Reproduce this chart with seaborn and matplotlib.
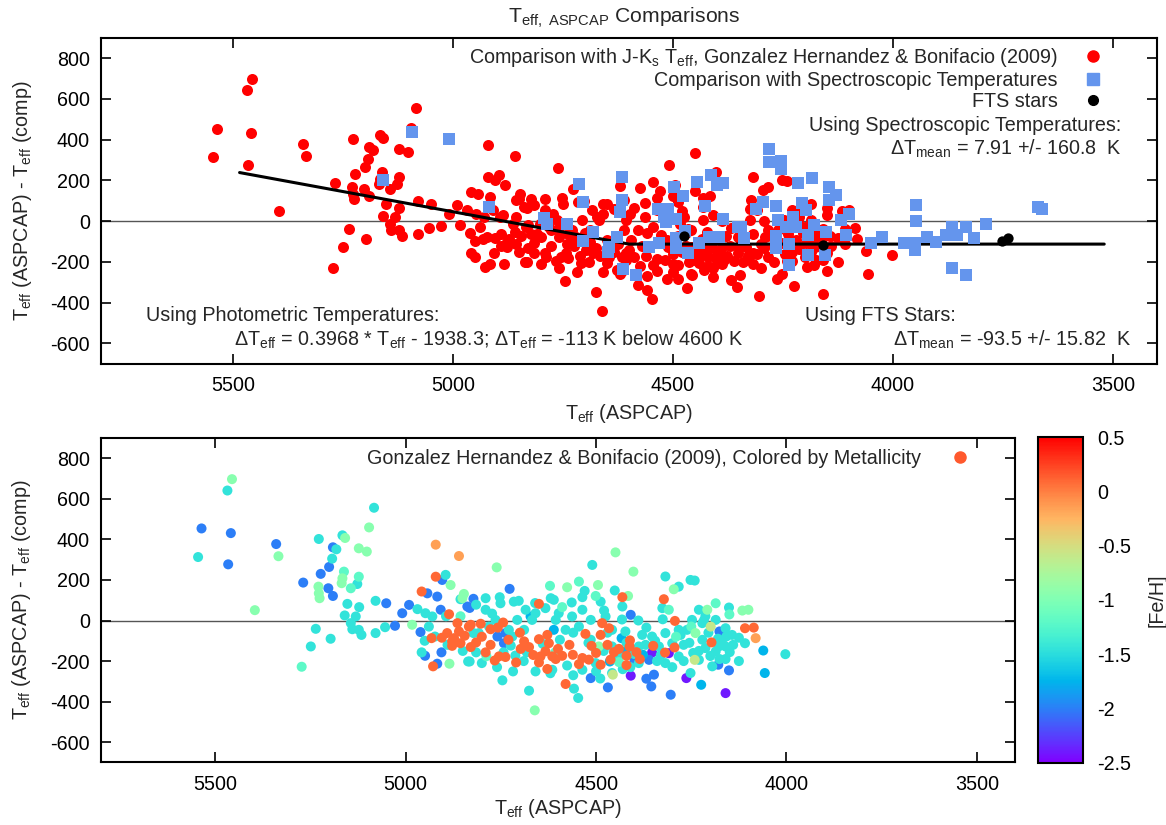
import numpy as np
import pandas as pd
import matplotlib
matplotlib.use("Agg")
import matplotlib.pyplot as plt
import seaborn as sns
from matplotlib.lines import Line2D
from matplotlib.colors import Normalize

# ---------------- data: photometric comparison (grouped by [Fe/H]) ----------------
FEH_PURPLE = -2.4
teff_purple = [4409, 4263, 4160, 4353, 4309]
dteff_purple = [-272, -284, -358, -158, -161]

FEH_BLUE = -2.0
teff_blue = [5536, 5459, 5466, 5340, 5191, 5201, 5269, 5203, 5191, 5223,
             5028, 4961, 4949, 4906, 4917, 4943, 4917, 4838, 5009, 4991,
             4904, 4727, 4832, 4908, 4759, 4738, 4742, 4409, 4514, 4469,
             4368, 4348, 4355, 4304, 4151, 4179, 4399, 4361, 4176, 4822,
             5051]
dteff_blue = [454, 431, 277, 377, 361, 264, 187, 159, 121, 230,
              -26, -57, -174, -157, -213, 134, 118, 69, 36, 77,
              200, 156, 62, 53, -79, -62, -112, 28, -284, -330,
              -287, -267, -325, -366, -246, -218, -197, -194, -54, 107,
              85]

FEH_AZURE = -1.75
teff_azure = [4061, 4057, 4224, 4377, 4672, 4611, 4433, 4423, 4464]
dteff_azure = [-148, -259, -317, -169, 20, -46, -87, -153, -202]

FEH_CYAN = -1.45
teff_cyan = [5468, 5545, 5083, 5228, 5182, 5166, 5193, 5153, 5122, 5131,
             5160, 5079, 5054, 5079, 5116, 5123, 5144, 5140, 5236, 5197,
             5249, 4969, 4948, 4958, 4930, 4939, 4923, 4836, 5127, 4510,
             4895, 4451, 4318, 4283, 4252, 4241, 4856, 4716, 4703, 4619,
             4536, 4488, 4431, 4479, 4389, 4326, 4230, 4151, 4325, 4832,
             4808, 4822, 4718, 4746, 4676, 4558, 4547, 4252, 4158, 4109,
             4003, 4178, 4160, 4149, 4176, 4217, 4689, 4668, 4606, 4580,
             4545, 4514, 4501, 4458, 4423, 4388, 4335, 4300, 4278, 4261,
             4221, 4213, 4186, 4169, 4781, 4764, 4729, 4720, 4707, 4790,
             4751, 4685, 4659, 4633, 4598, 4563, 4536, 4514, 4475, 4458,
             4379, 4353, 4318, 4283, 4248, 4221, 4186, 4160, 4143, 4659,
             4615, 4536, 4501, 4458, 4388, 4318, 4283, 4230, 4195]
dteff_cyan = [641, 313, 556, 402, 351, 420, 305, 82, 66, 20,
              25, 97, -33, -62, -71, -46, -13, -43, -41, -90,
              -128, 56, 36, -157, 20, -30, -79, -202, 180, 274,
              225, 148, 217, 167, 200, 197, 105, 93, 97, 110,
              115, 93, 69, 49, 0, 61, 53, 64, 6, -202,
              -62, -62, -251, -295, -346, -336, -382, -259, -79, -112,
              -166, -128, -128, -156, -190, 0, -46, 3, 3, -46,
              -30, -95, -144, -128, -54, -128, -128, -112, -71, -46,
              -95, -136, -153, -112, -30, 3, -46, -79, 3, 53,
              85, 53, 36, 61, 36, 20, 53, 3, 20, -46,
              -71, -79, -62, -46, 3, -13, 3, -38, -71, -251,
              -243, -243, -210, -259, -210, -210, -177, -194, -226]

# cyan stars in the crowded 4950-4100 K band
teff_cyan_dense = [4790, 4753, 4611, 4564, 4530, 4894, 4815, 4773, 4815, 4743,
                   4724, 4682, 4576, 4489, 4432, 4213, 4368, 4660, 4712, 4640,
                   4595, 4560, 4520, 4480, 4440, 4410, 4345, 4330, 4270, 4245,
                   4205, 4160, 4125, 4690, 4620, 4560, 4500, 4950, 4890, 4850,
                   4800, 4760, 4430, 4400, 4370, 4340, 4300, 4270, 4255, 4230,
                   4200, 4180, 4140, 4125, 4470, 4455, 4420]
dteff_cyan_dense = [110, 115, 102, 89, 146, 21, 78, 34, -157, -157,
                    -124, -157, -222, -286, 5, 21, -35, 86, -173, -115,
                    -95, -60, -110, -150, -175, -230, -100, -170, -120, -160,
                    -60, -190, -85, -200, -260, -270, -250, -100, -120, -150,
                    -210, -230, -240, -165, -120, -200, -230, -200, -110, -150,
                    -175, -90, -120, -200, -60, -190, -110]

FEH_AQUA = -1.2
teff_aqua = [5162, 5144, 5123, 5273, 4621, 4545, 4589, 4309, 4186, 4501,
             4856, 4788, 4607, 4440, 4290, 4250, 4150]
dteff_aqua = [241, 159, 216, -228, 171, 192, 66, 53, 85, 121,
              21, -176, -157, -205, -80, -30, 30]

FEH_PGREEN = -0.95
teff_pgreen = [5456, 5334, 5396, 5096, 5159, 5123, 5102, 5166, 5168, 5229,
               5228, 5226, 4983, 4885, 4882, 4851, 4449, 4402, 4761, 4576,
               4495, 4847, 4416, 4296, 4208, 4116, 4100, 4661, 4239, 4493]
dteff_pgreen = [697, 317, 51, 459, 407, 356, 340, 208, 184, 167,
                134, 110, -21, -213, 175, 110, 336, 241, 262, 164,
                175, 131, 121, 154, 53, 49, 53, -443, -62, -128]

FEH_YGREEN = -0.6
teff_ygreen = [4456, 4241, 4199]
dteff_ygreen = [-267, -194, -30]

FEH_LORANGE = -0.15
teff_lorange = [4081, 4921, 4860]
dteff_lorange = [-87, 374, 318]

FEH_ORANGE = 0.1
teff_orange = [4921, 4958, 4886, 4864, 4891, 4860, 4878, 4856, 4932, 4928,
               4829, 4803, 4777, 4744, 4873, 4829, 4815, 4777, 4755, 4738,
               4790, 4710, 4698, 4689, 4676, 4650, 4628, 4624, 4633, 4646,
               4650, 4628, 4606, 4615, 4589, 4561, 4536, 4519, 4488, 4462,
               4453, 4484, 4466, 4488, 4528, 4512, 4420, 4411, 4412, 4394,
               4580, 4294, 4319, 4197, 4109, 4086, 4650, 4431, 4322, 4293,
               4834, 4878, 4766, 4758, 4700, 4665, 4600, 4570, 4545, 4500,
               4470, 4440, 4905, 4845, 4800, 4730, 4420, 4385, 4350]
dteff_orange = [216, 143, 31, -13, -62, -54, -103, -112, -87, -226,
                -21, -16, -43, -10, -87, -131, -108, -120, -177, -180,
                -157, -207, -140, -103, -131, -92, -71, -112, -152, -177,
                -207, -239, -190, -177, -174, -169, -185, -193, -218, -193,
                -156, -13, -38, -71, -66, -125, -174, -98, -128, -156,
                -313, -133, -158, -108, -38, -35, 82, 115, 105, -2,
                -30, -125, -197, -35, -60, -170, -140, -120, -215, -160,
                -120, -140, -85, -75, -80, -95, -220, -190, -125]

# ---------------- data: spectroscopic comparison ----------------
teff_spec = [5093, 5009, 5159, 4918, 4714, 4705, 4794, 4786, 4741, 4682,
             4705, 4646, 4648, 4627, 4616, 4616, 4620, 4614, 4584, 4535,
             4512, 4520, 4493, 4516, 4497, 4478, 4446, 4414, 4400, 4427,
             4387, 4353, 4532, 4554, 4493, 4493, 4473, 4467, 4440, 4419,
             4396, 4281, 4281, 4255, 4255, 4215, 4184, 4145, 4130, 4145,
             4387, 4296, 4266, 4206, 4198, 4228, 4312, 4346, 4338, 4262,
             4243, 4221, 4179, 4153, 4266, 4236, 4266, 4194, 4194, 4236,
             4154, 4119, 4100, 4107, 4050, 4024, 3975, 3950, 3950, 3948,
             3948, 3922, 3903, 3880, 3865, 3854, 3835, 3816, 3789, 3867,
             3833, 3670, 3661]
dteff_spec = [437, 402, 201, 67, 180, 92, 13, -12, -12, -54,
              -97, -129, -154, -80, 214, 103, 46, -236, -265, 57,
              57, 21, 8, -3, 165, 124, 190, 226, 175, 75,
              8, -31, -106, -126, -131, -85, -49, -159, -110, -77,
              -80, 352, 291, 294, 253, 188, 209, 168, 127, 103,
              185, 95, 74, 90, 54, 21, 57, -28, -85, 5,
              -28, -28, -20, -52, -74, -113, -134, -69, -167, -216,
              -167, 5, 37, -69, -106, -80, -106, -106, -142, 78,
              1, -80, -102, -69, -31, -69, -31, -85, -12, -232,
              -265, 70, 57]

# ---------------- data: FTS stars ----------------
teff_fts = [4476, 4158, 3753, 3739]
dteff_fts = [-75, -118, -97, -84]

# ---------------- fit line ----------------
teff_fit = [5485, 4600, 3520]
dteff_fit = [238, -113, -113]

xticks = [5500, 5000, 4500, 4000, 3500]
yticks = [-600, -400, -200, 0, 200, 400, 600, 800]
cbar_ticks = [0.5, 0, -0.5, -1, -1.5, -2, -2.5]
cbar_labels = ["0.5", "0", "-0.5", "-1", "-1.5", "-2", "-2.5"]

groups = [
    (FEH_PURPLE, teff_purple, dteff_purple),
    (FEH_BLUE, teff_blue, dteff_blue),
    (FEH_AZURE, teff_azure, dteff_azure),
    (FEH_CYAN, teff_cyan, dteff_cyan),
    (FEH_CYAN, teff_cyan_dense, dteff_cyan_dense),
    (FEH_AQUA, teff_aqua, dteff_aqua),
    (FEH_PGREEN, teff_pgreen, dteff_pgreen),
    (FEH_YGREEN, teff_ygreen, dteff_ygreen),
    (FEH_LORANGE, teff_lorange, dteff_lorange),
    (FEH_ORANGE, teff_orange, dteff_orange),
]
phot = pd.concat([pd.DataFrame({"teff": t, "dteff": d, "feh": f}) for f, t, d in groups],
                 ignore_index=True)
spec = pd.DataFrame({"teff": teff_spec, "dteff": dteff_spec})
fts = pd.DataFrame({"teff": teff_fts, "dteff": dteff_fts})
fit = pd.DataFrame({"teff": teff_fit, "dteff": dteff_fit})

# ---------------- style ----------------
sns.set_style("ticks")
plt.rcParams["font.family"] = ["Liberation Sans", "DejaVu Sans"]
plt.rcParams["mathtext.fontset"] = "custom"
plt.rcParams["mathtext.rm"] = "Liberation Sans"
plt.rcParams["mathtext.it"] = "Liberation Sans:italic"
plt.rcParams["mathtext.bf"] = "Liberation Sans:bold"
plt.rcParams["axes.unicode_minus"] = False
FS = 14.2

fig = plt.figure(figsize=(11.66, 8.25), dpi=100)
ax1 = fig.add_axes([0.0866, 0.5591, 0.9057, 0.3953])
ax2 = fig.add_axes([0.0866, 0.0758, 0.7839, 0.3933])
cax = fig.add_axes([0.8900, 0.0755, 0.0391, 0.3947])

TEFF = "T$_{\\rm eff}$"
ylab = TEFF + " (ASPCAP) - " + TEFF + " (comp)"
xlab = TEFF + " (ASPCAP)"


def style_axes(ax):
    ax.set_xlim(5800, 3400)
    ax.set_ylim(-700, 900)
    ax.set_xticks(xticks)
    ax.set_yticks(yticks)
    ax.tick_params(direction="in", length=7, width=1.2, top=True, right=True,
                   labelsize=FS, colors="black")
    ax.tick_params(axis="x", pad=9)
    ax.tick_params(axis="y", pad=8)
    for sp in ax.spines.values():
        sp.set_linewidth(1.5)
        sp.set_color("black")
    ax.axhline(0, color="#555555", lw=1.0, zorder=0.5)


# ---------------- top panel ----------------
style_axes(ax1)
sns.scatterplot(data=phot, x="teff", y="dteff", color="#ff0000", s=63, linewidth=0,
                ax=ax1, zorder=2)
sns.lineplot(data=fit, x="teff", y="dteff", color="black", lw=2.2, ax=ax1, zorder=3)
sns.scatterplot(data=spec, x="teff", y="dteff", color="#6495ed", marker="s", s=63,
                linewidth=0, ax=ax1, zorder=4)
sns.scatterplot(data=fts, x="teff", y="dteff", color="black", s=55, linewidth=0,
                ax=ax1, zorder=5)
ax1.set_xlabel(xlab, fontsize=FS)
ax1.set_ylabel(ylab, fontsize=FS)
ax1.yaxis.set_label_coords(-0.063, 0.5)
ax1.xaxis.set_label_coords(0.5, -0.118)

h1 = [Line2D([], [], ls="", marker="o", color="#ff0000", markersize=8),
      Line2D([], [], ls="", marker="s", color="#6495ed", markersize=8),
      Line2D([], [], ls="", marker="o", color="black", markersize=7)]
l1 = ["Comparison with J-K$_{\\rm s}$ " + TEFF + ", Gonzalez Hernandez & Bonifacio (2009)",
      "Comparison with Spectroscopic Temperatures",
      "FTS stars"]
ax1.legend(h1, l1, loc="upper right", bbox_to_anchor=(0.949, 0.975), markerfirst=False,
           frameon=False, fontsize=FS, handlelength=1.0, handletextpad=1.3,
           labelspacing=0.1, borderaxespad=0, borderpad=0)

ax1.text(0.966, 0.732, "Using Spectroscopic Temperatures:", transform=ax1.transAxes,
         ha="right", va="center", fontsize=FS)
ax1.text(0.966, 0.658, "$\\Delta$T$_{\\rm mean}$ = 7.91 +/- 160.8  K", transform=ax1.transAxes,
         ha="right", va="center", fontsize=FS)
ax1.text(0.043, 0.149, "Using Photometric Temperatures:", transform=ax1.transAxes,
         ha="left", va="center", fontsize=FS)
ax1.text(0.126, 0.072,
         "$\\Delta$" + TEFF + " = 0.3968 * " + TEFF + " - 1938.3; $\\Delta$" + TEFF +
         " = -113 K below 4600 K", transform=ax1.transAxes, ha="left", va="center", fontsize=FS)
ax1.text(0.667, 0.149, "Using FTS Stars:", transform=ax1.transAxes,
         ha="left", va="center", fontsize=FS)
ax1.text(0.750, 0.072, "$\\Delta$T$_{\\rm mean}$ = -93.5 +/- 15.82  K", transform=ax1.transAxes,
         ha="left", va="center", fontsize=FS)

fig.text(624 / 1166, 1 - 18 / 825, "T$_{\\rm eff,\\ ASPCAP}$ Comparisons",
         ha="center", va="center", fontsize=FS + 1)

# ---------------- bottom panel ----------------
norm = Normalize(vmin=-2.5, vmax=0.5)
style_axes(ax2)
sns.scatterplot(data=phot, x="teff", y="dteff", hue="feh", palette="rainbow",
                hue_norm=norm, s=52, linewidth=0, legend=False, ax=ax2, zorder=2)
ax2.set_xlabel(xlab, fontsize=FS)
ax2.set_ylabel(ylab, fontsize=FS)
ax2.yaxis.set_label_coords(-0.074, 0.5)
ax2.xaxis.set_label_coords(0.5, -0.105)

cmap = plt.get_cmap("rainbow")
h2 = [Line2D([], [], ls="", marker="o", color=cmap(norm(0.15)), markersize=8)]
ax2.legend(h2, ["Gonzalez Hernandez & Bonifacio (2009), Colored by Metallicity"],
           loc="upper right", bbox_to_anchor=(0.951, 0.965), markerfirst=False,
           frameon=False, fontsize=FS, handlelength=1.0, handletextpad=1.5,
           borderaxespad=0, borderpad=0)

sm = matplotlib.cm.ScalarMappable(norm=norm, cmap=cmap)
cb = fig.colorbar(sm, cax=cax, ticks=cbar_ticks)
cb.ax.set_yticklabels(cbar_labels)
cb.ax.tick_params(direction="in", length=7, width=1.2, left=True, right=True,
                  labelsize=FS, pad=10, colors="black")
cb.outline.set_linewidth(1.5)
cb.outline.set_edgecolor("black")
cb.set_label("[Fe/H]", fontsize=FS, labelpad=12)

fig.savefig("out.png", dpi=100)
